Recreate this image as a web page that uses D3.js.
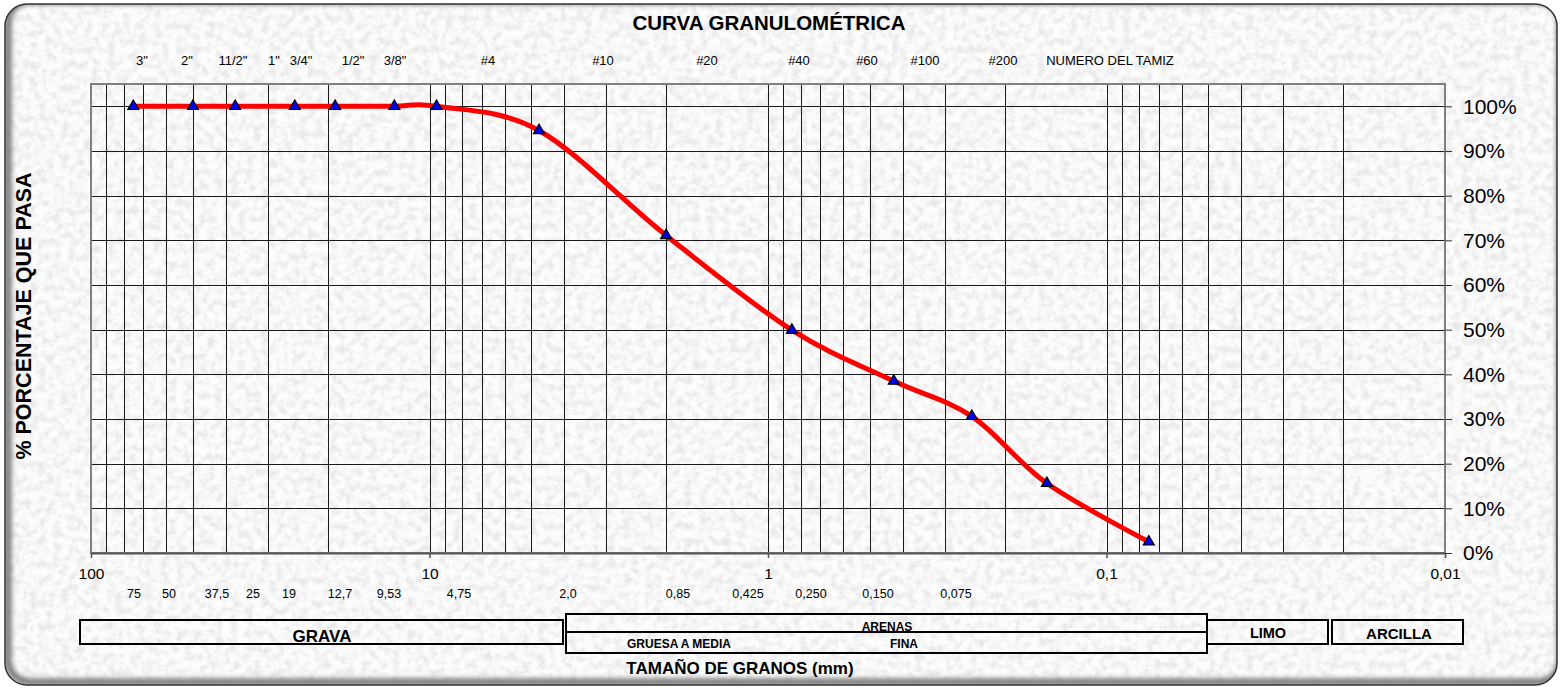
<!DOCTYPE html>
<html>
<head>
<meta charset="utf-8">
<script src="https://cdn.jsdelivr.net/npm/d3@7"></script>
<style>
  body { margin: 0; background: #fff; }
  text { font-family: "Liberation Sans", Arial, sans-serif; fill: #000; }
</style>
</head>
<body>
<div id="chart"></div>
<script>
// sieve data (mm) and % passing
var sieveSizes = [75, 50, 37.5, 25, 19, 12.7, 9.53, 4.75, 2.0, 0.85, 0.425, 0.25, 0.15, 0.075];
var percentPassing = [100, 100, 100, 100, 100, 100, 100, 94.6, 71.1, 49.9, 38.5, 30.6, 15.6, 2.5];

var xTickValues = [100, 10, 1, 0.1, 0.01];
var yTickValues = [0, 10, 20, 30, 40, 50, 60, 70, 80, 90, 100];

var sieveNames = ['3"', '2"', '11/2"', '1"', '3/4"', '1/2"', '3/8"', "#4", "#10", "#20", "#40", "#60", "#100", "#200", "NUMERO DEL TAMIZ"];
var sizeLabels = ["75", "50", "37,5", "25", "19", "12,7", "9,53", "4,75", "2,0", "0,85", "0,425", "0,250", "0,150", "0,075"];

var soilNames = ["GRAVA", "ARENAS", "LIMO", "ARCILLA"];
var sandNames = ["GRUESA A MEDIA", "FINA"];

// layout (label positions are placed like spreadsheet cells, not on the scale)
var sieveNameX = [142, 187, 233, 274, 301, 353, 395, 488, 603, 707, 799, 867, 925, 1003, 1110];
var sizeLabelX = [134, 169, 217, 253, 289, 340, 389, 459, 568, 678, 748, 811, 878, 956];

var svgWidth = 1562;
var svgHeight = 691;

var margin = { top: 84, right: 117, bottom: 138, left: 91 };
var width = svgWidth - margin.left - margin.right;
var height = svgHeight - margin.top - margin.bottom;

var svg = d3.select("#chart")
  .append("svg")
  .attr("width", svgWidth)
  .attr("height", svgHeight);

var defs = svg.append("defs");

// paper texture
var paper = defs.append("filter")
  .attr("id", "paper")
  .attr("x", 0).attr("y", 0).attr("width", 1).attr("height", 1);
paper.append("feTurbulence")
  .attr("type", "fractalNoise")
  .attr("baseFrequency", "0.13")
  .attr("numOctaves", 4)
  .attr("seed", 5);
paper.append("feColorMatrix")
  .attr("type", "matrix")
  .attr("values", "0 0 0 0 0.5  0 0 0 0 0.5  0 0 0 0 0.5  2.6 0 0 0 -1.05");

var blur = defs.append("filter").attr("id", "blur");
blur.append("feGaussianBlur").attr("stdDeviation", 2.5);

var frame = { x: 5, y: 4, w: 1552, h: 681, r: 22 };

defs.append("clipPath").attr("id", "frameClip")
  .append("rect")
  .attr("x", frame.x).attr("y", frame.y)
  .attr("width", frame.w).attr("height", frame.h)
  .attr("rx", frame.r);

var bg = svg.append("g").attr("clip-path", "url(#frameClip)");

bg.append("rect")
  .attr("x", frame.x).attr("y", frame.y)
  .attr("width", frame.w).attr("height", frame.h)
  .attr("fill", "#fcfcfc");

bg.append("rect")
  .attr("x", frame.x).attr("y", frame.y)
  .attr("width", frame.w).attr("height", frame.h)
  .attr("filter", "url(#paper)")
  .attr("opacity", 0.3);

// inner shadow left / bottom
bg.append("rect")
  .attr("x", frame.x).attr("y", frame.y)
  .attr("width", frame.w).attr("height", frame.h)
  .attr("rx", frame.r)
  .attr("fill", "none")
  .attr("stroke", "#777")
  .attr("stroke-width", 7)
  .attr("filter", "url(#blur)")
  .attr("transform", "translate(3,-3)");

svg.append("rect")
  .attr("x", frame.x).attr("y", frame.y)
  .attr("width", frame.w).attr("height", frame.h)
  .attr("rx", frame.r)
  .attr("fill", "none")
  .attr("stroke", "#333")
  .attr("stroke-width", 1.5);

var chartGroup = svg.append("g")
  .attr("transform", `translate(${margin.left}, ${margin.top})`);

// scales
var xLogScale = d3.scaleLog()
  .domain([100, 0.01])
  .range([0, width]);

var yLinearScale = d3.scaleLinear()
  .domain([0, 105])
  .range([height, 0]);

// vertical grid (1..9 per decade)
chartGroup.append("g")
  .selectAll("line")
  .data(xLogScale.ticks())
  .enter()
  .append("line")
  .attr("x1", d => Math.round(xLogScale(d)) + 0.5)
  .attr("x2", d => Math.round(xLogScale(d)) + 0.5)
  .attr("y1", 0)
  .attr("y2", height)
  .attr("stroke", "#1a1a1a")
  .attr("stroke-width", 1);

// horizontal grid
chartGroup.append("g")
  .selectAll("line")
  .data(yTickValues.slice(1))
  .enter()
  .append("line")
  .attr("x1", 0)
  .attr("x2", width)
  .attr("y1", d => Math.round(yLinearScale(d)) + 0.5)
  .attr("y2", d => Math.round(yLinearScale(d)) + 0.5)
  .attr("stroke", "#1a1a1a")
  .attr("stroke-width", 1);

// plot border
chartGroup.append("rect")
  .attr("x", 0).attr("y", 0)
  .attr("width", width).attr("height", height)
  .attr("fill", "none")
  .attr("stroke", "#808080")
  .attr("stroke-width", 2);

// axes
var bottomAxis = d3.axisBottom(xLogScale)
  .tickValues(xTickValues)
  .tickFormat(d => String(d).replace(".", ","))
  .tickSize(5)
  .tickSizeOuter(0)
  .tickPadding(10);

var rightAxis = d3.axisRight(yLinearScale)
  .tickValues(yTickValues)
  .tickFormat(d => d + "%")
  .tickSize(7)
  .tickSizeOuter(0)
  .tickPadding(11);

var xAxisG = chartGroup.append("g")
  .attr("transform", `translate(0, ${height})`)
  .call(bottomAxis);
xAxisG.select(".domain").attr("stroke", "#555").attr("stroke-width", 2);
xAxisG.selectAll(".tick line").attr("stroke", "#555").attr("stroke-width", 1.5);
xAxisG.selectAll(".tick text")
  .attr("font-size", "15.5px")
  .attr("font-family", "Liberation Sans, Arial, sans-serif");

var yAxisG = chartGroup.append("g")
  .attr("transform", `translate(${width}, 0)`)
  .call(rightAxis);
yAxisG.select(".domain").remove();
yAxisG.selectAll(".tick line").attr("stroke", "#333").attr("stroke-width", 1);
yAxisG.selectAll(".tick text")
  .attr("font-size", "21px")
  .attr("font-family", "Liberation Sans, Arial, sans-serif");

// curve
var gradation = sieveSizes.map((s, i) => ({ size: s, pct: percentPassing[i] }));

var curve = d3.line()
  .x(d => xLogScale(d.size))
  .y(d => yLinearScale(d.pct))
  .curve(d3.curveCardinal.tension(0));

chartGroup.append("path")
  .datum(gradation)
  .attr("d", curve)
  .attr("fill", "none")
  .attr("stroke", "#ff0000")
  .attr("stroke-width", 5)
  .attr("stroke-linejoin", "round");

chartGroup.selectAll(".marker")
  .data(gradation)
  .enter()
  .append("path")
  .attr("class", "marker")
  .attr("transform", d => `translate(${xLogScale(d.size)}, ${yLinearScale(d.pct)})`)
  .attr("d", d3.symbol(d3.symbolTriangle, 52))
  .attr("fill", "#0000ee")
  .attr("stroke", "#000")
  .attr("stroke-width", 1.2);

// title
svg.append("text")
  .attr("x", 769)
  .attr("y", 30)
  .attr("text-anchor", "middle")
  .attr("font-size", "20.5px")
  .attr("font-weight", "bold")
  .text("CURVA GRANULOMÉTRICA");

// sieve names on top
svg.append("g").selectAll("text")
  .data(sieveNames)
  .enter()
  .append("text")
  .attr("x", (d, i) => sieveNameX[i])
  .attr("y", 65)
  .attr("text-anchor", "middle")
  .attr("font-size", "13px")
  .text(d => d);

// sizes under the axis
svg.append("g").selectAll("text")
  .data(sizeLabels)
  .enter()
  .append("text")
  .attr("x", (d, i) => sizeLabelX[i])
  .attr("y", 598)
  .attr("text-anchor", "middle")
  .attr("font-size", "12.5px")
  .text(d => d);

// y label
svg.append("text")
  .attr("transform", "translate(31, 316) rotate(-90)")
  .attr("text-anchor", "middle")
  .attr("font-size", "21.5px")
  .attr("font-weight", "bold")
  .text("% PORCENTAJE QUE PASA");

// x label
svg.append("text")
  .attr("x", 740)
  .attr("y", 674)
  .attr("text-anchor", "middle")
  .attr("font-size", "17px")
  .attr("font-weight", "bold")
  .text("TAMAÑO DE GRANOS (mm)");

// soil classification boxes
var boxes = svg.append("g")
  .attr("fill", "none")
  .attr("stroke", "#000")
  .attr("stroke-width", 2);

boxes.append("rect").attr("x", 80).attr("y", 620).attr("width", 483).attr("height", 24);
boxes.append("rect").attr("x", 566).attr("y", 614).attr("width", 641).attr("height", 39);
boxes.append("line").attr("x1", 566).attr("x2", 1207).attr("y1", 632).attr("y2", 632);
boxes.append("rect").attr("x", 1207).attr("y", 620).attr("width", 121).attr("height", 24);
boxes.append("rect").attr("x", 1332).attr("y", 620).attr("width", 131).attr("height", 24);

var soilText = svg.append("g")
  .attr("font-weight", "bold")
  .attr("text-anchor", "middle");

soilText.append("text").attr("x", 322).attr("y", 642).attr("font-size", "17px").text(soilNames[0]);
soilText.append("text").attr("x", 887).attr("y", 631).attr("font-size", "12px").text(soilNames[1]);
soilText.append("text").attr("x", 1268).attr("y", 638).attr("font-size", "14.5px").text(soilNames[2]);
soilText.append("text").attr("x", 1399).attr("y", 639).attr("font-size", "15px").text(soilNames[3]);
soilText.append("text").attr("x", 679).attr("y", 648).attr("font-size", "12px").text(sandNames[0]);
soilText.append("text").attr("x", 904).attr("y", 648).attr("font-size", "12px").text(sandNames[1]);
</script>
</body>
</html>
